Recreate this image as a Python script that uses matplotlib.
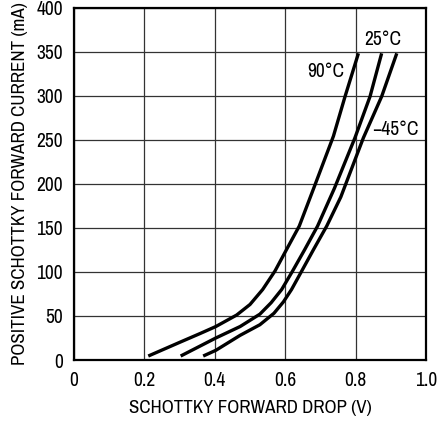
import matplotlib
matplotlib.use("Agg")
import matplotlib.pyplot as plt
from matplotlib import font_manager

# pick a narrow/condensed sans if one is installed
fam = "Liberation Sans"
condensed = False
for f in font_manager.fontManager.ttflist:
    if ("Narrow" in f.name or "Condensed" in f.name) and "Mono" not in f.name and "Serif" not in f.name:
        fam = f.name
        condensed = True
        break
plt.rcParams['font.family'] = [fam, 'DejaVu Sans']

v_90 = [0.211, 0.30, 0.358, 0.403, 0.462, 0.500, 0.536, 0.571, 0.606, 0.640, 0.683, 0.737, 0.770, 0.808]
i_90 = [4.5, 20, 30, 38, 51, 63, 80, 101, 127, 152, 197, 254, 299, 348]
v_25 = [0.303, 0.403, 0.472, 0.528, 0.560, 0.590, 0.621, 0.655, 0.692, 0.740, 0.798, 0.841, 0.874]
i_25 = [4.5, 25, 38, 52, 65, 80, 101, 125, 152, 195, 252, 299, 348]
v_m45 = [0.367, 0.403, 0.472, 0.528, 0.568, 0.595, 0.618, 0.647, 0.680, 0.718, 0.758, 0.822, 0.874, 0.917]
i_m45 = [4.5, 11, 28, 40, 53, 66, 80, 101, 125, 152, 185, 252, 299, 348]

labels = ["90°C", "25°C", "\u221245°C"]
label_pos = [(0.715, 327), (0.876, 364), (0.913, 261)]

xticks = [0, 0.2, 0.4, 0.6, 0.8, 1.0]
xticklabels = ["0", "0.2", "0.4", "0.6", "0.8", "1.0"]
yticks = [0, 50, 100, 150, 200, 250, 300, 350, 400]

if condensed:
    fs_tick, fs_lab, fs_ann, fs_ylab = 14, 13.6, 14, 13.6
else:
    fs_tick, fs_lab, fs_ann, fs_ylab = 11.5, 11.2, 11.5, 11

fig = plt.figure(figsize=(4.39, 4.21), dpi=100)
ax = fig.add_axes([74/439, 61/421, 352/439, 352.5/421])

for v, i in [(v_90, i_90), (v_25, i_25), (v_m45, i_m45)]:
    ax.plot(v, i, color='black', lw=2.4, solid_capstyle='butt', solid_joinstyle='round')

for lab, (x, y) in zip(labels, label_pos):
    ax.text(x, y, lab, ha='center', va='center', fontsize=fs_ann)

ax.set_xlim(0, 1.0)
ax.set_ylim(0, 400)
ax.set_xticks(xticks)
ax.set_xticklabels(xticklabels)
ax.set_yticks(yticks)
ax.grid(True, color='#333333', lw=0.9)
ax.set_axisbelow(True)
ax.tick_params(length=0, labelsize=fs_tick, pad=8)
for s in ax.spines.values():
    s.set_linewidth(1.6)
ax.set_xlabel("SCHOTTKY FORWARD DROP (V)", fontsize=fs_lab, labelpad=7)
ax.set_ylabel("POSITIVE SCHOTTKY FORWARD CURRENT (mA)", fontsize=fs_ylab, labelpad=6)

fig.savefig("out.png", dpi=100)
